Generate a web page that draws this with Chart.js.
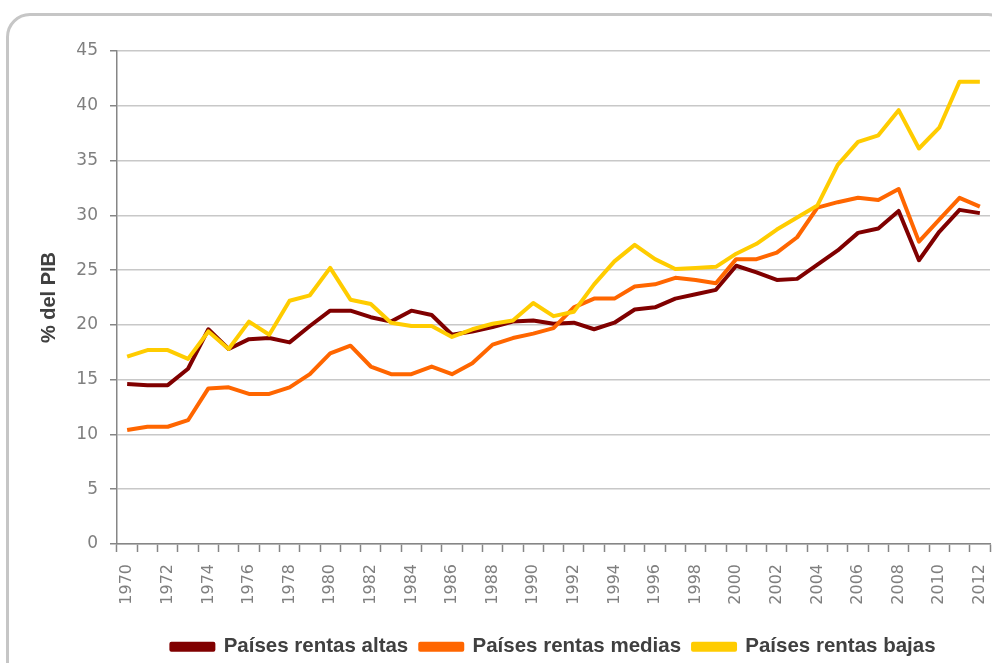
<!DOCTYPE html>
<html>
<head>
<meta charset="utf-8">
<script src="https://cdn.jsdelivr.net/npm/chart.js@4.4.1/dist/chart.umd.min.js"></script>
<style>
    html, body { margin: 0; padding: 0; background: #ffffff; overflow: hidden; }
    #wrap { position: relative; width: 992px; height: 663px; }
    #frame {
        position: absolute; left: 6px; top: 13px; width: 1000px; height: 670px;
        border: 3px solid #c6c6c6; border-radius: 24px; pointer-events: none;
    }
</style>
</head>
<body>
<div id="wrap">
    <canvas id="lineChart" width="992" height="663"></canvas>
    <div id="frame"></div>
</div>
<script>
// Years on the category axis
const years = [
    "1970", "1971", "1972", "1973", "1974", "1975", "1976", "1977", "1978", "1979",
    "1980", "1981", "1982", "1983", "1984", "1985", "1986", "1987", "1988", "1989",
    "1990", "1991", "1992", "1993", "1994", "1995", "1996", "1997", "1998", "1999",
    "2000", "2001", "2002", "2003", "2004", "2005", "2006", "2007", "2008", "2009",
    "2010", "2011", "2012"
];

// % del PIB per income group
const rentasAltas = [
    14.6, 14.5, 14.5, 16.0, 19.6, 17.8, 18.7, 18.8, 18.4, 19.9,
    21.3, 21.3, 20.7, 20.3, 21.3, 20.9, 19.1, 19.4, 19.8, 20.3,
    20.4, 20.1, 20.2, 19.6, 20.2, 21.4, 21.6, 22.4, 22.8, 23.2,
    25.4, 24.8, 24.1, 24.2, 25.5, 26.8, 28.4, 28.8, 30.4, 25.9,
    28.5, 30.5, 30.2
];
const rentasMedias = [
    10.4, 10.7, 10.7, 11.3, 14.2, 14.3, 13.7, 13.7, 14.3, 15.5,
    17.4, 18.1, 16.2, 15.5, 15.5, 16.2, 15.5, 16.5, 18.2, 18.8,
    19.2, 19.7, 21.6, 22.4, 22.4, 23.5, 23.7, 24.3, 24.1, 23.8,
    26.0, 26.0, 26.6, 28.0, 30.7, 31.2, 31.6, 31.4, 32.4, 27.6,
    29.6, 31.6, 30.8
];
const rentasBajas = [
    17.1, 17.7, 17.7, 16.9, 19.4, 17.8, 20.3, 19.1, 22.2, 22.7,
    25.2, 22.3, 21.9, 20.2, 19.9, 19.9, 18.9, 19.6, 20.1, 20.4,
    22.0, 20.8, 21.2, 23.7, 25.8, 27.3, 26.0, 25.1, 25.2, 25.3,
    26.5, 27.4, 28.7, 29.8, 30.9, 34.6, 36.7, 37.3, 39.6, 36.1,
    38.0, 42.2, 42.2
];

const seriesNames = ["Países rentas altas", "Países rentas medias", "Países rentas bajas"];
const yTicks = [0, 5, 10, 15, 20, 25, 30, 35, 40, 45];

const axisGray = "#868686";
const gridGray = "#c8c8c8";
const labelGray = "#7f7f7f";

function makeLine(label, values, color, order) {
    return {
        label: label,
        data: values,
        borderColor: color,
        backgroundColor: color,
        borderWidth: 4,
        pointRadius: 0,
        tension: 0,
        borderJoinStyle: "round",
        order: order, // Excel draws later series on top
    };
}

const ctx = document.getElementById("lineChart").getContext("2d");

new Chart(ctx, {
    type: "line",
    data: {
        labels: years,
        datasets: [
            makeLine(seriesNames[0], rentasAltas, "#800000", 2),
            makeLine(seriesNames[1], rentasMedias, "#ff6600", 1),
            makeLine(seriesNames[2], rentasBajas, "#ffcc00", 0),
        ],
    },
    options: {
        responsive: false,
        animation: false,
        layout: { padding: { top: 51, left: 0, right: 2, bottom: 0 } },
        plugins: {
            tooltip: { enabled: false },
            legend: {
                position: "bottom",
                labels: {
                    boxWidth: 42,
                    boxHeight: 6,
                    padding: 12,
                    color: "#404040",
                    font: { family: "'Liberation Sans', Arial, sans-serif", size: 20.5, weight: "bold" },
                    sort: (a, b) => a.datasetIndex - b.datasetIndex,
                },
            },
        },
        scales: {
            x: {
                offset: true,
                grid: {
                    display: true,
                    offset: true,
                    drawOnChartArea: false,
                    drawTicks: true,
                    tickLength: 8,
                    tickColor: axisGray,
                    tickWidth: 1.5,
                },
                border: { color: axisGray, width: 1.5 },
                ticks: {
                    autoSkip: false,
                    minRotation: 90,
                    maxRotation: 90,
                    padding: 12,
                    color: labelGray,
                    font: { family: "'DejaVu Sans', sans-serif", size: 16 },
                    callback: function (value, index) {
                        // Only every second year is labelled
                        return index % 2 === 0 ? years[index] : "";
                    },
                },
                afterFit: function (scale) {
                    // keep the plot bottom and right edge where the reference has them
                    scale.height = scale.chart.height - 544 - scale.chart.legend.height;
                    scale.paddingLeft = 0;
                    scale.paddingRight = 0;
                },
            },
            y: {
                min: 0,
                max: 45,
                afterBuildTicks: function (scale) {
                    scale.ticks = yTicks.map((v) => ({ value: v }));
                },
                grid: {
                    color: gridGray,
                    lineWidth: 1.5,
                    tickLength: 7,
                    tickColor: axisGray,
                    tickWidth: 1.5,
                },
                border: { color: axisGray, width: 1.5 },
                ticks: {
                    padding: 12,
                    color: labelGray,
                    font: { family: "'DejaVu Sans', sans-serif", size: 17 },
                },
                title: {
                    display: true,
                    text: "% del PIB",
                    color: "#404040",
                    font: { family: "'Liberation Sans', Arial, sans-serif", size: 20, weight: "bold" },
                    padding: { top: 37, bottom: 0 },
                },
                afterFit: function (scale) {
                    scale.width = 117;
                },
            },
        },
    },
    plugins: [{
        id: "legendNudge",
        afterLayout: function (chart) {
            // legend sits a little lower and is centred on the plot area in the reference
            chart.legend.top += 4;
            chart.legend.bottom += 4;
            chart.legend.left = chart.chartArea.left;
            chart.legend.right = chart.chartArea.right;
        },
    }],
});
</script>
</body>
</html>
